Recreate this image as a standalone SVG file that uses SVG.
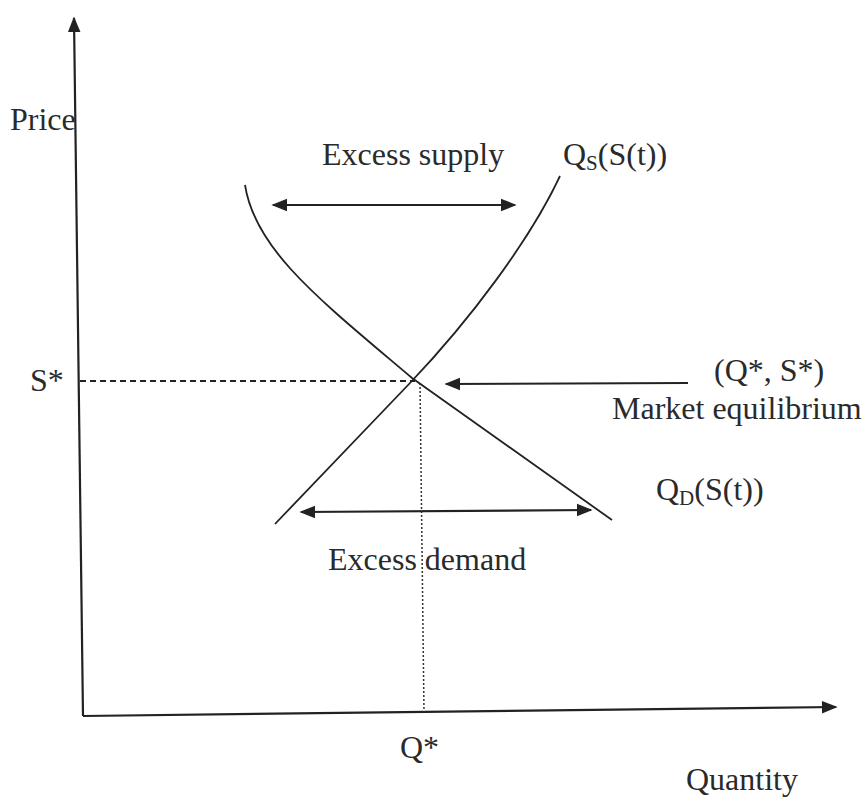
<svg xmlns="http://www.w3.org/2000/svg" width="868" height="800" viewBox="0 0 868 800">
<style>
text{font-family:"Liberation Serif","Times New Roman",serif;font-size:32px;fill:#2a2a2a}
.ax{stroke:#222;stroke-width:2.2;fill:none}
.cv{stroke:#222;stroke-width:1.8;fill:none}
.ar{stroke:#222;stroke-width:2.2;fill:none}
.sub{font-size:21px}
</style>
<defs>
<marker id="ahBig" viewBox="0 0 10 10" refX="9" refY="5" markerWidth="16" markerHeight="16" markerUnits="userSpaceOnUse" orient="auto-start-reverse">
<path d="M0,1 L10,5 L0,9 z" fill="#222"/>
</marker>
</defs>
<rect width="868" height="800" fill="#fff"/>
<g id="axes">
<line class="ax" x1="83" y1="716" x2="74" y2="18" marker-end="url(#ahBig)"/>
<line class="ax" x1="83" y1="716" x2="836" y2="707" marker-end="url(#ahBig)"/>
</g>
<g id="connectors">
<line stroke="#222" stroke-width="1.8" stroke-dasharray="6,4" x1="80" y1="381" x2="415" y2="381"/>
<line stroke="#333" stroke-width="1.5" stroke-dasharray="2,2" x1="420" y1="383" x2="424" y2="712"/>
<line class="ar" x1="688" y1="383" x2="446" y2="384" marker-end="url(#ahBig)"/>
<line class="ar" x1="273" y1="205" x2="515" y2="205" marker-start="url(#ahBig)" marker-end="url(#ahBig)"/>
<line class="ar" x1="301" y1="512" x2="591" y2="510" marker-start="url(#ahBig)" marker-end="url(#ahBig)"/>
</g>
<g id="supply-curve">
<path class="cv" d="M275,524 L410,383 C470,320 530,240 560,176"/>
</g>
<g id="demand-curve">
<path class="cv" d="M245,185 C255,250 320,300 412,378 L612,520"/>
</g>
<g id="labels">
<text x="10" y="130">Price</text>
<text x="30" y="391">S*</text>
<text x="322" y="165">Excess supply</text>
<text x="563" y="165">Q<tspan class="sub" dy="5">S</tspan><tspan dy="-5">(S(t))</tspan></text>
<text x="714" y="381">(Q*, S*)</text>
<text x="612" y="419">Market equilibrium</text>
<text x="656" y="500">Q<tspan class="sub" dy="5">D</tspan><tspan dy="-5">(S(t))</tspan></text>
<text x="328" y="570">Excess demand</text>
<text x="400" y="758">Q*</text>
<text x="686" y="790">Quantity</text>
</g>
</svg>
